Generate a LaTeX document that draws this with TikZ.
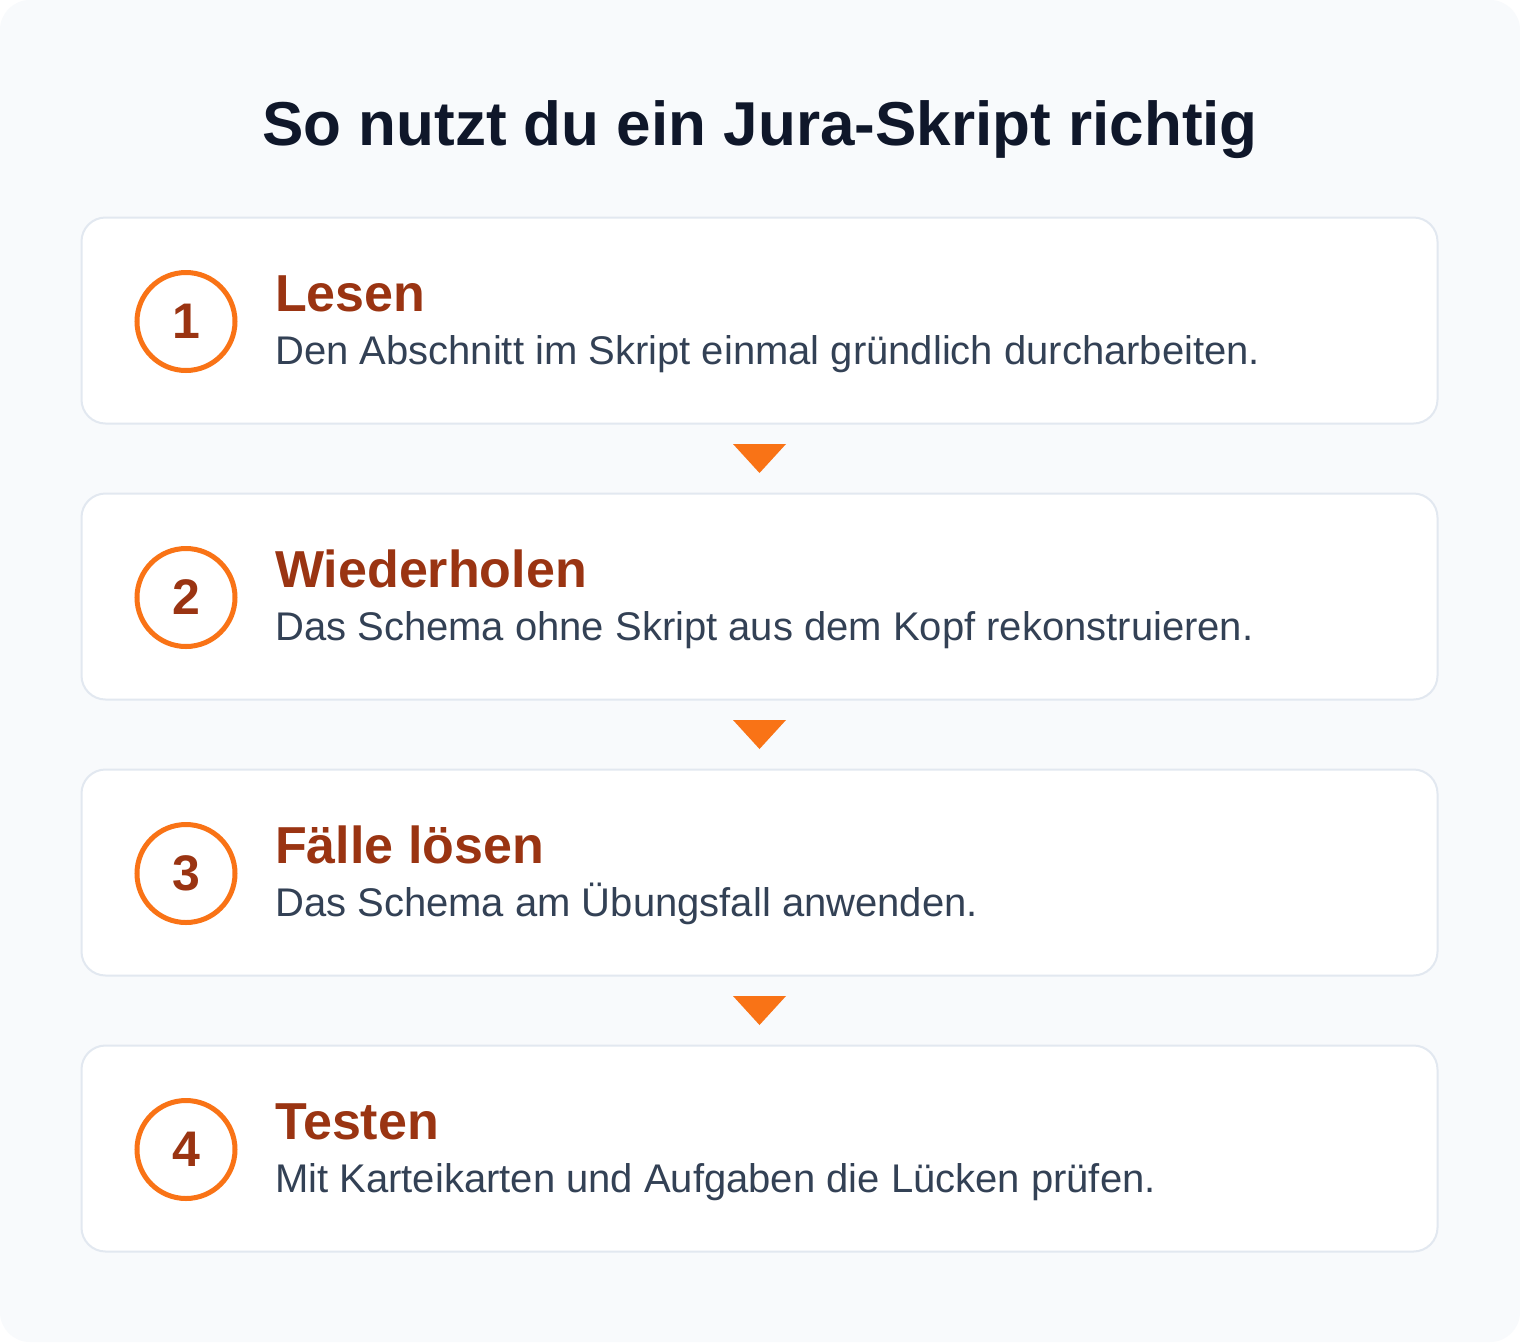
\documentclass[tikz,border=0pt]{standalone}
\usepackage{fontspec}
\setmainfont{Liberation Sans}
\usetikzlibrary{calc}
\definecolor{bgc}{HTML}{F8FAFC}
\definecolor{cardline}{HTML}{E2E8F0}
\definecolor{orangec}{HTML}{F97316}
\definecolor{brownc}{HTML}{9A3412}
\definecolor{descc}{HTML}{334155}
\definecolor{titlec}{HTML}{0F172A}
\begin{document}
\begin{tikzpicture}[x=1pt,y=-1pt,
  card/.style={draw=cardline, line width=2pt, fill=white, rounded corners=24pt,
    minimum width=1356pt, minimum height=206pt, inner sep=0pt},
  numcircle/.style={circle, draw=orangec, line width=5pt, minimum size=98pt, inner sep=0pt,
    font=\fontsize{50}{58}\selectfont\bfseries, text=brownc},
  steptitle/.style={anchor=base west, inner sep=0pt, font=\fontsize{52}{62}\selectfont\bfseries, text=brownc},
  stepdesc/.style={anchor=base west, inner sep=0pt, font=\fontsize{40}{48}\selectfont, text=descc},
  arrowtri/.style={fill=orangec}
]
\useasboundingbox (0,0) rectangle (1520,1342);
\fill[white] (0,0) rectangle (1520,1342);
\fill[bgc, rounded corners=30pt] (0,0) rectangle (1520,1342);

\node[anchor=base, inner sep=0pt, font=\fontsize{62}{74}\selectfont\bfseries, text=titlec] (title) at (760,145) {So nutzt du ein Jura-Skript richtig};

\foreach \i/\t/\d in {1/Lesen/Den Abschnitt im Skript einmal gründlich durcharbeiten.,
                     2/Wiederholen/Das Schema ohne Skript aus dem Kopf rekonstruieren.,
                     3/Fälle lösen/Das Schema am Übungsfall anwenden.,
                     4/Testen/Mit Karteikarten und Aufgaben die Lücken prüfen.}{
  \pgfmathsetmacro{\dy}{276*(\i-1)}
  \node[card] (c\i) at (759.5,320.5+\dy) {};
  \node[numcircle] (n\i) at (186,321.5+\dy) {\i};
  \node[steptitle] (t\i) at (275,311+\dy) {\t};
  \node[stepdesc] (d\i) at (275,364+\dy) {\d};
}

\foreach \a/\b in {1/2,2/3,3/4}{
  \coordinate (m\a) at ($(c\a.south)!0.5!(c\b.north)$);
  \fill[arrowtri] ($(m\a)+(-26.5,-14.5)$) -- ($(m\a)+(26.5,-14.5)$) -- ($(m\a)+(0,14.5)$) -- cycle;
}
\end{tikzpicture}
\end{document}
